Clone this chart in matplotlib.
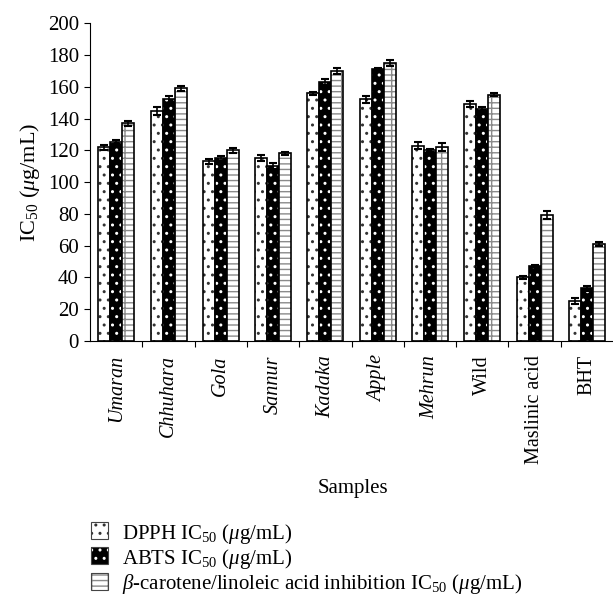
import matplotlib
matplotlib.use("Agg")
import matplotlib.pyplot as plt
import numpy as np

plt.rcParams['font.family'] = ['Liberation Serif', 'DejaVu Serif']
plt.rcParams['mathtext.fontset'] = 'custom'
plt.rcParams['mathtext.rm'] = 'Liberation Serif'
plt.rcParams['mathtext.it'] = 'Liberation Serif:italic'
plt.rcParams['hatch.linewidth'] = 1.0

samples = ['Umaran', 'Chhuhara', 'Gola', 'Sannur', 'Kadaka', 'Apple',
           'Mehrun', 'Wild', 'Maslinic acid', 'BHT']
italic = [True, True, True, True, True, True, True, False, False, False]

dpph = [122, 145, 113, 115, 156, 152, 123, 149, 40, 25]
abts = [125, 152, 115, 110, 163, 171, 120, 146, 47, 33]
beta = [137, 159, 120, 118, 170, 175, 122, 155, 79, 61]
dpph_err = [1.5, 2.5, 1.5, 2, 1, 2, 2, 2, 1, 2]
abts_err = [1.2, 2.5, 1.5, 2, 2, 1, 1, 1.5, 0.5, 1.5]
beta_err = [1.5, 1.5, 1.5, 1, 2, 2, 2.5, 1, 2.5, 1.5]

labels = [r'DPPH IC$_{50}$ ($\mu$g/mL)',
          r'ABTS IC$_{50}$ ($\mu$g/mL)',
          r'$\beta$-carotene/linoleic acid inhibition IC$_{50}$ ($\mu$g/mL)']

fs = 15
W, H = 613, 596
fig = plt.figure(figsize=(W / 100, H / 100), dpi=100)
ax = fig.add_axes([0.147, 0.428, 0.853, 0.533])

x = np.arange(len(samples))
w = 0.23
series = [
    (dpph, dpph_err, 'white', '#333333', '..'),
    (abts, abts_err, 'black', 'white', '..'),
    (beta, beta_err, 'white', '#8a8a8a', '---|'),
]
for i, (vals, errs, fc, hc, hatch) in enumerate(series):
    pos = x + (i - 1) * w
    ax.bar(pos, vals, w, color=fc, edgecolor=hc, hatch=hatch, linewidth=0)
    ax.bar(pos, vals, w, fill=False, edgecolor='black', linewidth=1.2)
    ax.errorbar(pos, vals, yerr=errs, fmt='none', ecolor='black',
                elinewidth=1.2, capsize=3, capthick=1.5)

ax.set_xlim(-0.5, len(samples) - 0.5)
ax.set_ylim(0, 200)
ax.set_yticks(np.arange(0, 201, 20))
ax.tick_params(axis='y', labelsize=15, direction='out', length=4, pad=4)
ax.set_xticks(x[:-1] + 0.5)
ax.set_xticklabels([])
ax.tick_params(axis='x', direction='out', length=4)
for xi, name, it in zip(x, samples, italic):
    ax.text(xi, -9, name, rotation=90, ha='center', va='top', fontsize=14.5,
            style='italic' if it else 'normal', transform=ax.transData,
            clip_on=False)
ax.spines['top'].set_visible(False)
ax.spines['right'].set_visible(False)
ax.set_ylabel(r'IC$_{50}$ ($\mu$g/mL)', fontsize=16, labelpad=4)
fig.text(353 / W, 1 - 488 / H, 'Samples', ha='center', va='center', fontsize=fs)

# legend drawn by hand so rows sit like the original
for i, ((vals, errs, fc, hc, hatch), lab) in enumerate(zip(series, labels)):
    yc = 1 - (530 + i * 25.5) / H
    sq = 17
    r1 = plt.Rectangle((91 / W, yc - sq / 2 / H), sq / W, sq / H,
                       transform=fig.transFigure, facecolor=fc, edgecolor=hc,
                       hatch=hatch, lw=0)
    r2 = plt.Rectangle((91 / W, yc - sq / 2 / H), sq / W, sq / H,
                       transform=fig.transFigure, fill=False,
                       edgecolor='#444444', lw=0.8)
    fig.add_artist(r1)
    fig.add_artist(r2)
    fig.text(122 / W, yc, lab, ha='left', va='center_baseline', fontsize=15)

fig.savefig('out.png', dpi=100)
